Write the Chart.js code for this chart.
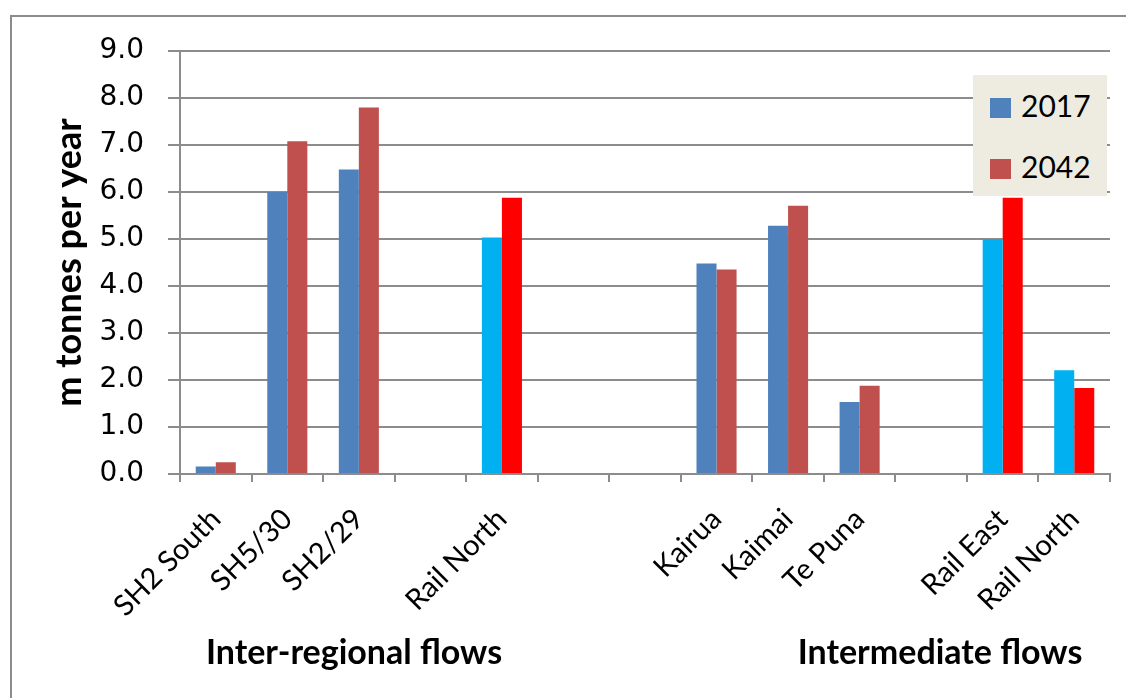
<!DOCTYPE html>
<html>
<head>
<meta charset="utf-8">
<script src="https://cdn.jsdelivr.net/npm/chart.js@4"></script>
<style>
  body { margin: 0; background: #fff; }
  #wrap { position: relative; width: 1126px; height: 698px; overflow: hidden; }
  #frame { position: absolute; left: 10px; top: 15px; width: 1140px; height: 720px; border: 2px solid #8c8c8c; }
  canvas { position: absolute; left: 0; top: 0; }
  .legend { position: absolute; left: 973px; top: 75px; width: 134px; height: 121px; background: #eeece1; font-family: Lato, sans-serif; font-size: 30px; color: #000; }
  .legend div { position: absolute; left: 17px; height: 30px; line-height: 30px; }
  .legend span { display: inline-block; width: 21px; height: 20px; margin-right: 10px; vertical-align: -1px; }
  .group { position: absolute; top: 630px; font-family: Lato, sans-serif; font-weight: bold; font-size: 34px; color: #000; transform: translateX(-50%); white-space: nowrap; }
</style>
</head>
<body>
<div id="wrap">
  <div id="frame"></div>
  <canvas id="chart" width="1126" height="698"></canvas>
  <div class="legend">
    <div style="top:15px"><span style="background:#4f81bd"></span>2017</div>
    <div style="top:76px"><span style="background:#c0504d"></span>2042</div>
  </div>
  <div class="group" style="left:354px">Inter-regional flows</div>
  <div class="group" style="left:940px">Intermediate flows</div>
</div>
<script>
// freight flows, million tonnes per year
const categories = ['SH2 South', 'SH5/30', 'SH2/29', '', 'Rail North', '', '', 'Kairua', 'Kaimai', 'Te Puna', '', 'Rail East', 'Rail North'];
const flows2017 = [0.16, 6.0, 6.48, null, 5.03, null, null, 4.48, 5.28, 1.53, null, 5.0, 2.21];
const flows2042 = [0.25, 7.08, 7.8, null, 5.88, null, null, 4.35, 5.71, 1.88, null, 5.88, 1.83];
const railIdx = [4, 11, 12]; // rail bars use brighter colours

function colours(base, rail) {
  return categories.map((c, i) => railIdx.includes(i) ? rail : base);
}

const ctx = document.getElementById('chart').getContext('2d');
new Chart(ctx, {
  type: 'bar',
  data: {
    labels: categories,
    datasets: [{
      label: '2017',
      data: flows2017,
      backgroundColor: colours('#4f81bd', '#00b0f0')
    }, {
      label: '2042',
      data: flows2042,
      backgroundColor: colours('#c0504d', '#ff0000')
    }]
  },
  options: {
    responsive: false,
    animation: false,
    categoryPercentage: 0.56,
    barPercentage: 1.0,
    layout: {
      padding: { left: 10, top: 51, right: 16, bottom: 0 }
    },
    plugins: {
      legend: { display: false },
      tooltip: { enabled: false }
    },
    scales: {
      x: {
        afterFit: function(scale) { scale.height = 224; },
        grid: {
          drawOnChartArea: false,
          drawTicks: true,
          tickLength: 8,
          color: '#8c8c8c',
          lineWidth: 2
        },
        border: { color: '#8c8c8c', width: 2 },
        ticks: {
          autoSkip: false,
          minRotation: 45,
          maxRotation: 45,
          padding: 20,
          labelOffset: 0,
          color: '#000',
          font: { family: 'Lato', size: 29 }
        }
      },
      y: {
        min: 0,
        max: 9,
        afterFit: function(scale) { scale.width = 170; },
        grid: {
          color: '#8c8c8c',
          lineWidth: 2,
          tickLength: 12
        },
        border: { color: '#8c8c8c', width: 2 },
        ticks: {
          stepSize: 1,
          padding: 24,
          color: '#000',
          font: { family: 'DejaVu Sans', size: 28 },
          callback: function(v) { return v.toFixed(1); }
        },
        title: {
          display: true,
          text: 'm tonnes per year',
          color: '#000',
          padding: { top: 38, bottom: 0 },
          font: { family: 'Lato', size: 36, weight: 'bold' }
        }
      }
    }
  }
});
</script>
</body>
</html>
